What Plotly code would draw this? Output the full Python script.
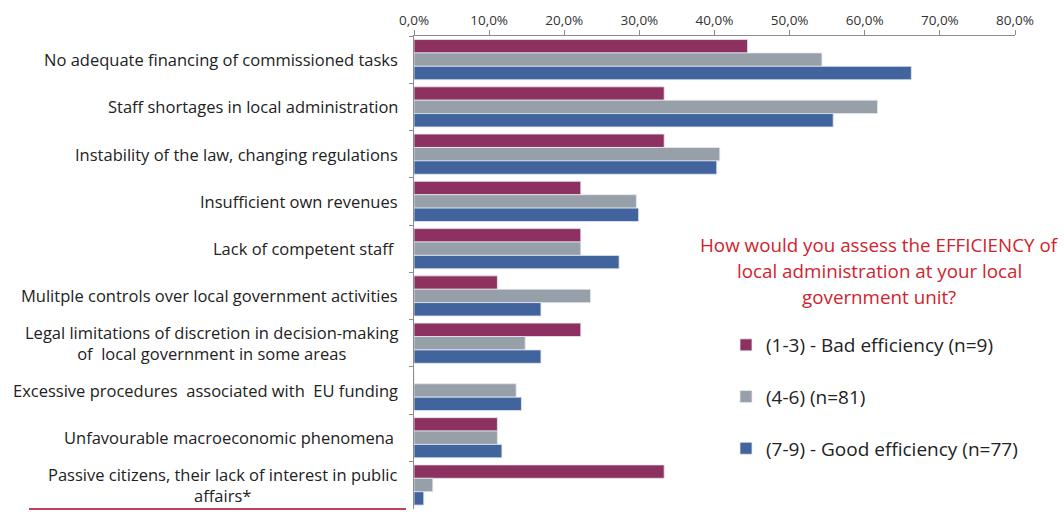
import plotly.graph_objects as go

# Barriers to local government efficiency, top to bottom
categories = [
    "No adequate financing of commissioned tasks",
    "Staff shortages in local administration",
    "Instability of the law, changing regulations",
    "Insufficient own revenues",
    "Lack of competent staff ",
    "Mulitple controls over local government activities",
    "Legal limitations of discretion in decision-making<br>of  local government in some areas",
    "Excessive procedures  associated with  EU funding",
    "Unfavourable macroeconomic phenomena ",
    "Passive citizens, their lack of interest in public<br>affairs*",
]

series_names = [
    "(1-3) - Bad efficiency (n=9)",
    "(4-6) (n=81)",
    "(7-9) - Good efficiency (n=77)",
]

bad_eff = [0.444, 0.333, 0.333, 0.222, 0.222, 0.111, 0.222, 0.0, 0.111, 0.333]
mid_eff = [0.543, 0.617, 0.407, 0.296, 0.222, 0.235, 0.148, 0.136, 0.111, 0.025]
good_eff = [0.662, 0.558, 0.403, 0.299, 0.273, 0.169, 0.169, 0.143, 0.117, 0.013]

x_ticks = [0, 0.1, 0.2, 0.3, 0.4, 0.5, 0.6, 0.7, 0.8]

title_lines = [
    "How would you assess the EFFICIENCY of",
    "local administration at your local",
    "government unit?",
]

colors = ["#8D3160", "#979FA8", "#41639E"]
font_family = "Open Sans, Lato, sans-serif"

fig = go.Figure()
for name, vals, col in zip(series_names, [bad_eff, mid_eff, good_eff], colors):
    fig.add_trace(go.Bar(
        y=categories, x=vals, name=name, orientation="h",
        marker=dict(color=col, line=dict(color="#E3E8F0", width=0.8)),
        legendgroup=name,
    ))

# Category labels, centred within their block and right-aligned at the axis
for cat in categories:
    fig.add_annotation(
        xref="paper", yref="y", x=0, y=cat, xanchor="right", yanchor="middle",
        xshift=-14, text=cat, showarrow=False, align="center",
        font=dict(family=font_family, size=16.5, color="#222222"),
    )

# Legend heading in red
title_y = [245, 271, 297]
for line, py in zip(title_lines, title_y):
    fig.add_annotation(
        xref="paper", yref="paper", x=(879 - 414) / 601, y=(509 - py) / 473,
        xanchor="center", yanchor="middle", text=line, showarrow=False,
        font=dict(family=font_family, size=18.8, color="#D0232E"),
    )

# Underline beneath the last label
fig.add_shape(
    type="line", xref="paper", yref="paper",
    x0=(29 - 414) / 601, x1=(406 - 414) / 601, y0=0, y1=0,
    line=dict(color="#C2435E", width=2),
)

fig.update_layout(
    width=1064, height=512,
    margin=dict(l=414, r=49, t=36, b=3),
    paper_bgcolor="white", plot_bgcolor="white",
    barmode="group", bargap=0.15, bargroupgap=0,
    separators=", ",
    font=dict(family=font_family, size=13, color="#333333"),
    showlegend=True,
    legend=dict(
        x=(726 - 414) / 601, y=(509 - 326) / 473, xanchor="left", yanchor="top",
        traceorder="grouped", tracegroupgap=24,
        font=dict(family=font_family, size=19, color="#222222"),
        bgcolor="rgba(0,0,0,0)", itemclick=False,
    ),
    xaxis=dict(
        side="top", range=[0, 0.8], tickvals=x_ticks, tickformat=".1%",
        showgrid=False, zeroline=False,
        showline=True, linecolor="#8C8C8C", linewidth=1,
        ticks="outside", ticklen=5, tickcolor="#8C8C8C",
        tickfont=dict(family=font_family, size=13.5, color="#333333"),
    ),
    yaxis=dict(
        autorange="reversed", showticklabels=False, showgrid=False,
        showline=True, linecolor="#8C8C8C", linewidth=1,
        ticks="outside", ticklen=4, tickcolor="#8C8C8C", tickson="boundaries",
    ),
)

fig.write_html("out.html")
